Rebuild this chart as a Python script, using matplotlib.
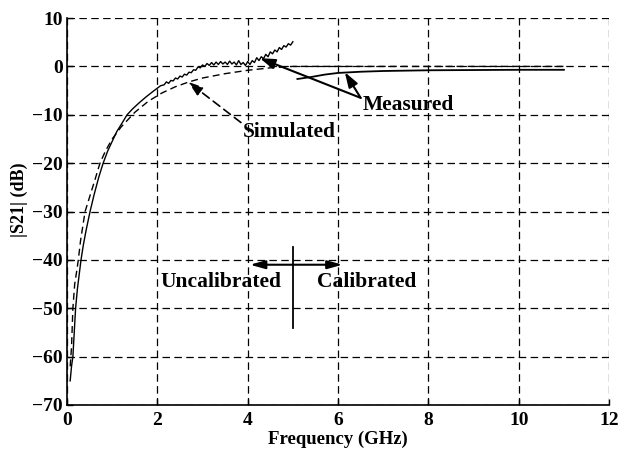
import numpy as np
import matplotlib.pyplot as plt

plt.rcParams['font.family'] = ['Liberation Serif', 'DejaVu Serif']
plt.rcParams['font.weight'] = 'bold'

# measured, uncalibrated (0 - 5 GHz)
meas_f = [0.07, 0.1, 0.13, 0.16, 0.19, 0.23, 0.27, 0.31, 0.36, 0.42, 0.51, 0.6,
          0.7, 0.8, 0.9, 1.0, 1.1, 1.2, 1.33, 1.45, 1.6, 1.75, 1.9, 2.07,
          2.15, 2.2, 2.25, 2.3, 2.35, 2.4, 2.45, 2.5, 2.55, 2.6, 2.65, 2.7,
          2.75, 2.8, 2.85, 2.9, 2.95, 3.0, 3.05, 3.1, 3.15, 3.2, 3.25, 3.3,
          3.35, 3.4, 3.45, 3.5, 3.55, 3.6, 3.65, 3.7, 3.75, 3.8, 3.85, 3.9,
          3.95, 4.0, 4.05, 4.1, 4.15, 4.2, 4.25, 4.3, 4.35, 4.4, 4.45, 4.5,
          4.55, 4.6, 4.65, 4.7, 4.75, 4.8, 4.85, 4.9, 4.95, 5.0]
meas_db = [-65, -62, -60, -55, -50, -46, -43, -40, -37, -34, -30, -26.5,
           -23, -20, -17.5, -15.5, -13.5, -12, -10, -8.8, -7.5, -6.3, -5.2, -4,
           -3.8, -3.2, -3.5, -2.9, -3.0, -2.4, -2.6, -2.0, -2.2, -1.6, -1.8, -1.2,
           -1.3, -0.7, -0.8, -0.1, -0.3, 0.3, 0.0, 0.6, 0.2, 0.8, 0.3, 0.9,
           0.4, 1.0, 0.5, 0.9, 0.4, 1.1, 0.5, 0.9, 0.3, 1.2, 0.4, 0.8,
           0.2, 1.0, 0.4, 1.2, 0.8, 1.8, 1.2, 2.0, 1.6, 2.5, 2.0, 3.0,
           2.6, 3.4, 3.0, 3.9, 3.5, 4.3, 4.0, 4.7, 4.4, 5.1]

# measured, calibrated (5 - 11 GHz)
cal_f = [5.1, 5.4, 5.7, 6.0, 6.5, 7.0, 8.0, 9.0, 10.0, 11.0]
cal_db = [-2.6, -2.2, -1.7, -1.35, -1.1, -0.95, -0.8, -0.75, -0.7, -0.7]

# simulated
sim_f = [0.07, 0.1, 0.13, 0.17, 0.22, 0.25, 0.3, 0.4, 0.5, 0.6, 0.73, 0.85,
         1.0, 1.2, 1.5, 1.8, 2.1, 2.4, 2.7, 3.0, 3.5, 4.0, 4.5, 5.0, 6.0, 8.0, 11.0]
sim_db = [-62, -58, -50, -45, -42, -40, -36, -30, -27, -24, -20, -17.5,
          -15, -12.5, -9.5, -7.2, -5.5, -4.2, -3.2, -2.4, -1.5, -0.8, -0.3, 0, 0, 0, 0]

fig = plt.figure(figsize=(6.34, 4.51), dpi=100)
ax = fig.add_axes([0.1057, 0.102, 0.855, 0.858])

ax.plot(meas_f, meas_db, color='black', lw=1.0)
ax.plot(cal_f, cal_db, color='black', lw=1.3)
ax.plot(sim_f, sim_db, color='black', lw=1.0, dashes=(5, 3))

ax.set_xlim(0, 12)
ax.set_ylim(-70, 10)
ax.set_xticks(np.arange(0, 13, 2))
ax.set_yticks(np.arange(-70, 11, 10))
ax.grid(True, color='black', linestyle=(0, (6, 3.5)), linewidth=0.9)
ax.tick_params(direction='in', length=4, labelsize=14, width=1)
ax.tick_params(axis='x', pad=5)
ax.tick_params(axis='y', pad=3)
for lab in ax.get_xticklabels() + ax.get_yticklabels():
    lab.set_fontweight('bold')
ax.spines['top'].set_visible(False)
ax.spines['right'].set_visible(False)
ax.spines['left'].set_linewidth(1.2)
ax.spines['bottom'].set_linewidth(1.2)

ax.set_xlabel('Frequency (GHz)', fontsize=13.5, fontweight='bold', labelpad=1)
ax.set_ylabel('|S21| (dB)', fontsize=13, fontweight='bold')
ax.yaxis.set_label_coords(-0.072, 0.53)

arw = dict(arrowstyle='-|>,head_length=0.9,head_width=0.3', color='black', lw=1.5,
           shrinkA=0, shrinkB=0)
ax.annotate('', xy=(4.27, 1.7), xytext=(6.5, -6.5), arrowprops=arw)
ax.annotate('', xy=(6.15, -1.2), xytext=(6.5, -6.5), arrowprops=arw)
ax.text(6.55, -9.0, 'Measured', fontsize=15.5, fontweight='bold', va='baseline', ha='left')

arw_d = dict(arrowstyle='-|>,head_length=0.9,head_width=0.3', color='black', lw=1.2,
             linestyle=(0, (5, 3)), shrinkA=0, shrinkB=0)
ax.annotate('', xy=(2.68, -3.2), xytext=(3.85, -11.6), arrowprops=arw_d)
ax.text(3.89, -14.6, 'Simulated', fontsize=15.5, fontweight='bold', va='baseline', ha='left')

ax.plot([5, 5], [-37.3, -54], color='black', lw=1.3)
arw2 = dict(arrowstyle='-|>,head_length=0.9,head_width=0.25', color='black', lw=1.5,
            shrinkA=0, shrinkB=0)
ax.annotate('', xy=(4.05, -41), xytext=(5, -41), arrowprops=arw2)
ax.annotate('', xy=(6.1, -41), xytext=(5, -41), arrowprops=arw2)
ax.text(3.41, -45.6, 'Uncalibrated', fontsize=15.5, fontweight='bold', va='baseline', ha='center')
ax.text(6.64, -45.6, 'Calibrated', fontsize=15.5, fontweight='bold', va='baseline', ha='center')

fig.savefig('out.png', dpi=100)
